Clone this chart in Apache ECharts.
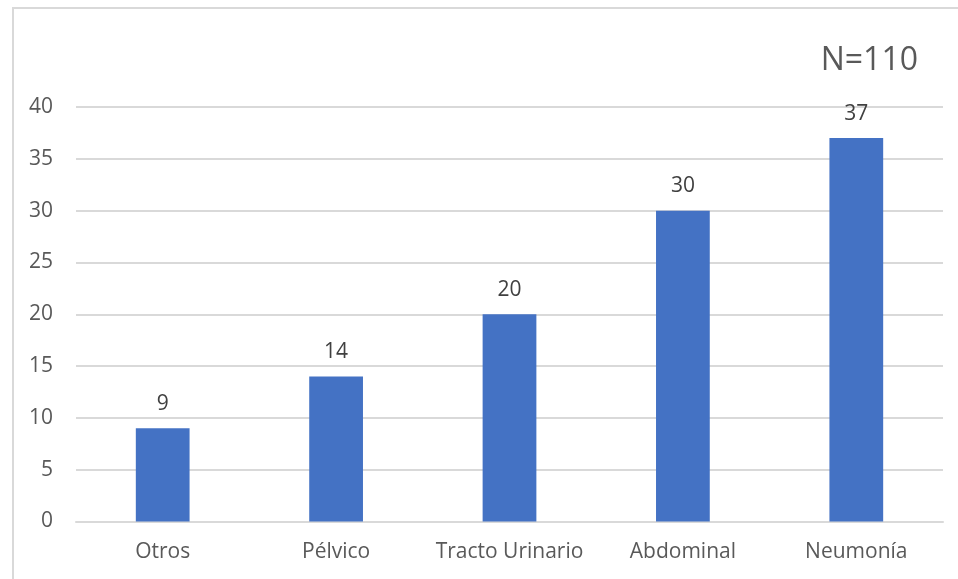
<!DOCTYPE html>
<html>
<head>
<meta charset="utf-8">
<script src="https://cdn.jsdelivr.net/npm/echarts@6/dist/echarts.min.js"></script>
<style>
  html, body { margin: 0; padding: 0; background: #fff; }
  #frame { position: absolute; left: 12px; top: 7px; width: 960px; height: 600px;
           border-left: 2px solid #d9d9d9; border-top: 2px solid #d9d9d9; box-sizing: border-box; }
  #chart { position: absolute; left: 0; top: 0; width: 958px; height: 579px; }
</style>
</head>
<body>
<div id="frame"></div>
<div id="chart"></div>
<script>
// Infection source categories and patient counts
const categories = ['Otros', 'Pélvico', 'Tracto Urinario', 'Abdominal', 'Neumonía'];
const counts = [9, 14, 20, 30, 37];
const yTicks = { min: 0, max: 40, interval: 5 };
const totalLabel = 'N=110';

const FONT = '"Open Sans", Lato, sans-serif';
const chart = echarts.init(document.getElementById('chart'), null, { renderer: 'canvas' });
chart.setOption({
  animation: false,
  title: {
    text: totalLabel,
    right: 35,
    top: 40,
    textStyle: { fontFamily: FONT, fontSize: 32, fontWeight: 'normal', color: '#595959' }
  },
  grid: { left: 76, right: 15, top: 107, bottom: 57.5, containLabel: false },
  xAxis: {
    type: 'category',
    data: categories,
    axisLine: { show: true, lineStyle: { color: '#d9d9d9', width: 2 } },
    axisTick: { show: false },
    axisLabel: { interval: 0, hideOverlap: false, fontFamily: FONT, fontSize: 21, color: '#595959', margin: 20 }
  },
  yAxis: {
    type: 'value',
    min: yTicks.min, max: yTicks.max, interval: yTicks.interval,
    axisLine: { show: false },
    axisTick: { show: false },
    splitLine: { lineStyle: { color: '#d9d9d9', width: 2 } },
    axisLabel: { fontFamily: FONT, fontSize: 21, color: '#595959', margin: 23 }
  },
  series: [{
    type: 'bar',
    data: counts,
    barWidth: '31%',
    itemStyle: { color: '#4472c4' },
    label: {
      show: true, position: 'top', distance: 14,
      fontFamily: FONT, fontSize: 21, color: '#404040'
    }
  }]
});
</script>
</body>
</html>
